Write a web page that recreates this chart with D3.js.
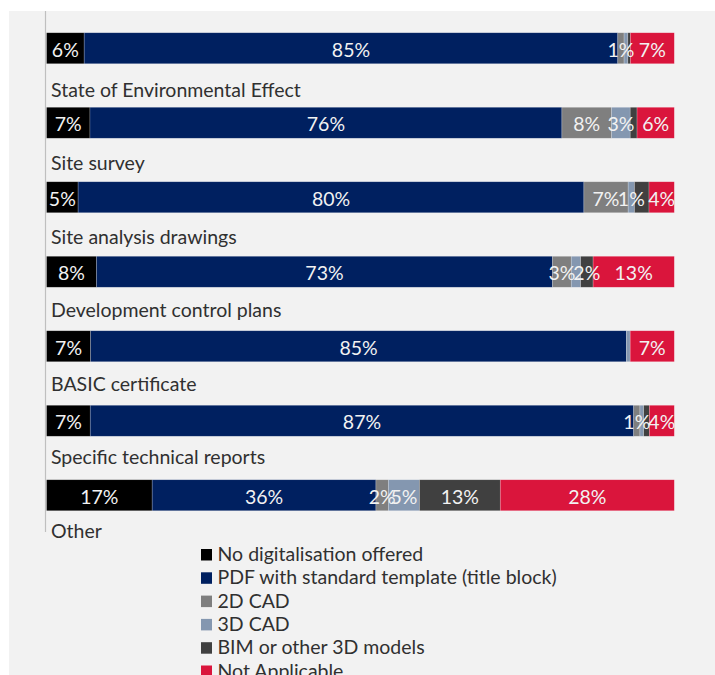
<!DOCTYPE html>
<html>
<head>
<meta charset="utf-8">
<script src="https://cdn.jsdelivr.net/npm/d3@7"></script>
<style>
  html, body { margin: 0; padding: 0; background: #ffffff; }
  svg { display: block; }
  text { font-family: Lato, "Open Sans", sans-serif; }
</style>
</head>
<body>
<svg id="chart" width="715" height="675"></svg>
<script>
// Categories, top to bottom
const categories = [
  "State of Environmental Effect",
  "Site survey",
  "Site analysis drawings",
  "Development control plans",
  "BASIC certificate",
  "Specific technical reports",
  "Other"
];

// Share of responses per category (%), one array per series
const noDigitalisation = [6, 7, 5, 8, 7, 7, 17];
const pdfTemplate      = [85, 76, 80, 73, 85, 87, 36];
const cad2D            = [1, 8, 7, 3, 0, 1, 2];
const cad3D            = [0.6, 3, 1, 1.5, 0.6, 0.6, 5];
const bimModels        = [0.4, 1.1, 2.3, 2, 0, 0.9, 13];
const notApplicable    = [7, 6, 4, 13, 7, 4, 28];

const seriesNames = [
  "No digitalisation offered",
  "PDF with standard template (title block)",
  "2D CAD",
  "3D CAD",
  "BIM or other 3D models",
  "Not Applicable"
];
const seriesValues = [noDigitalisation, pdfTemplate, cad2D, cad3D, bimModels, notApplicable];
const seriesColors = ["#000000", "#002060", "#7f7f7f", "#8497b0", "#404040", "#da153c"];

// Segments whose data label is not displayed: [series index, category index]
const hiddenLabels = [[3,0],[4,0],[4,1],[4,2],[3,3],[3,4],[3,5],[4,5]];

const svg = d3.select("#chart");
const fontSize = 19.5;

// Plot panel
svg.append("rect")
  .attr("x", 9).attr("y", 11)
  .attr("width", 706).attr("height", 664)
  .attr("fill", "#f2f2f2");

// Build rows normalised to 100% per category
const rows = categories.map((c, i) => {
  const obj = { category: c };
  seriesNames.forEach((s, k) => obj[s] = seriesValues[k][i]);
  return obj;
});
const stacked = d3.stack()
  .keys(seriesNames)
  .offset(d3.stackOffsetExpand)(rows);

const x = d3.scaleLinear().domain([0, 1]).range([46.5, 674.3]);
const y = d3.scaleBand()
  .domain(categories)
  .range([11, 532.5])
  .paddingInner(0.584)
  .paddingOuter(0.292);
const labelY = d3.scalePoint()
  .domain(categories)
  .range([96.7, 537.7]);
const color = d3.scaleOrdinal().domain(seriesNames).range(seriesColors);

// Bars
const layers = svg.append("g").selectAll("g")
  .data(stacked)
  .join("g")
  .attr("fill", d => color(d.key));

layers.selectAll("rect")
  .data(d => d.map(p => ({ key: d.key, p })))
  .join("rect")
  .attr("x", d => x(d.p[0]))
  .attr("y", d => y(d.p.data.category))
  .attr("width", d => Math.max(0, x(d.p[1]) - x(d.p[0])))
  .attr("height", y.bandwidth())
  .attr("stroke", "#ffffff")
  .attr("stroke-opacity", 0.35)
  .attr("stroke-width", 0.6);

// Data labels
const isHidden = (k, i) => hiddenLabels.some(h => h[0] === k && h[1] === i);
const labelData = [];
stacked.forEach((layer, k) => {
  layer.forEach((p, i) => {
    const v = seriesValues[k][i];
    if (v > 0 && !isHidden(k, i)) {
      labelData.push({ x: (x(p[0]) + x(p[1])) / 2, y: y(categories[i]) + y.bandwidth() / 2, v });
    }
  });
});
svg.append("g").selectAll("text")
  .data(labelData)
  .join("text")
  .attr("x", d => d.x)
  .attr("y", d => d.y + 8.4)
  .attr("text-anchor", "middle")
  .attr("fill", "#f2f2f2")
  .attr("font-size", fontSize)
  .text(d => d3.format(".0f")(d.v) + "%");

// Category axis line
svg.append("line")
  .attr("x1", 45.5).attr("x2", 45.5)
  .attr("y1", 11).attr("y2", 532)
  .attr("stroke", "#bfbfbf")
  .attr("stroke-width", 1.2);

// Category labels
svg.append("g").selectAll("text")
  .data(categories)
  .join("text")
  .attr("x", 51)
  .attr("y", d => labelY(d))
  .attr("fill", "#303030")
  .attr("font-size", fontSize)
  .text(d => d);

// Legend
const legend = svg.append("g").selectAll("g")
  .data(seriesNames)
  .join("g")
  .attr("transform", (d, i) => `translate(201, ${549 + i * 23.3})`);
legend.append("rect")
  .attr("width", 11).attr("height", 11.5)
  .attr("fill", d => color(d));
legend.append("text")
  .attr("x", 16.5)
  .attr("y", 12)
  .attr("fill", "#303030")
  .attr("font-size", fontSize)
  .text(d => d);
</script>
</body>
</html>
